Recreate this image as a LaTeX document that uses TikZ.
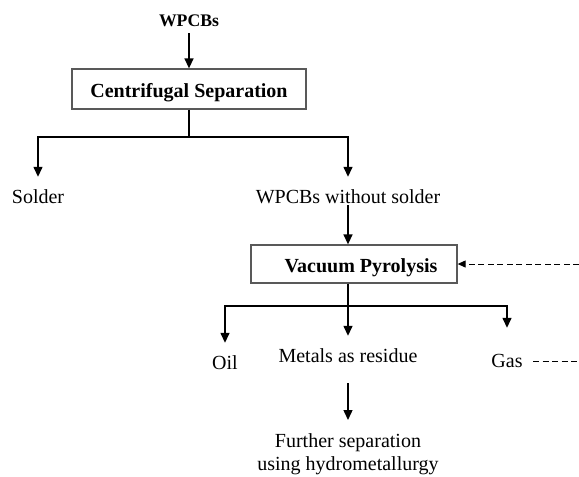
\documentclass[tikz,border=0pt]{standalone}
\usepackage{fontspec}
\setmainfont{Liberation Serif}
\usetikzlibrary{arrows.meta}

\tikzset{
  lbl/.style={inner sep=0pt, anchor=base, text height=26pt, text depth=2pt,
              font=\fontsize{20}{23}\selectfont},
  procbox/.style={draw=black!65, line width=1.3pt, inner sep=0pt,
                  text height=20pt, text depth=4pt,
                  font=\fontsize{20}{23}\selectfont\bfseries},
  link/.style={line width=1.4pt},
  arr/.style={link, -{Triangle[length=10pt,width=9pt]}},
  recycle/.style={line width=1pt, dash pattern=on 6pt off 3.5pt},
}

\begin{document}
\begin{tikzpicture}[x=1pt, y=-1pt]
\useasboundingbox (0,0) rectangle (579,477);

% input and first stage
\node[inner sep=0pt, anchor=base, text depth=7pt,
      font=\fontsize{17.7}{20}\selectfont\bfseries] (wp) at (189,26) {WPCBs};
\node[procbox, minimum width=234pt, minimum height=40pt] (cs) at (189,89)
  {Centrifugal Separation};

% products of centrifugal separation
\node[lbl] (solder) at (38,203) {Solder};
\node[lbl] (wws) at (348,203) {WPCBs without solder};

% second stage
\node[procbox, minimum width=206pt, minimum height=38pt] (vp) at (354,264)
  {\hspace*{14pt}Vacuum Pyrolysis};

% products of pyrolysis
\node[lbl] (oil) at (225,369) {Oil};
\node[lbl] (metals) at (348,362) {Metals as residue};
\node[lbl] (gas) at (507,367) {Gas};
\node[inner sep=0pt, anchor=north, align=center,
      font=\fontsize{20}{23}\selectfont] (further) at (348,420)
  {\rule{0pt}{27pt}Further separation\\using hydrometallurgy};

% branch points
\coordinate (j1) at (189,137);
\coordinate (j2) at (348,306);

% connectors
\draw[arr] (wp) -- (cs.north -| wp);
\draw[link] (cs.south) -- (j1);
\draw[arr] (j1) -| (solder);
\draw[arr] (j1) -| (wws);
\draw[arr] (wws) -- (vp.north -| wws);
\draw[link] (vp.south -| metals) -- (j2);
\draw[arr] (j2) -| (oil);
\draw[arr] (j2) -- (metals);
\draw[arr, shorten >=13pt] (j2) -| (gas);
\draw[arr, shorten <=19pt] (metals) -- (further.north -| metals);

% gas recycled back to the pyrolysis unit
\coordinate (gout) at (533,361);
\coordinate (gedge) at (579,361);
\coordinate (redge) at (579,264);
\draw[recycle] (gout) -- (gedge);
\draw[recycle, -{Triangle[length=8pt,width=7pt]}] (redge) -- (vp.east);
\end{tikzpicture}
\end{document}
